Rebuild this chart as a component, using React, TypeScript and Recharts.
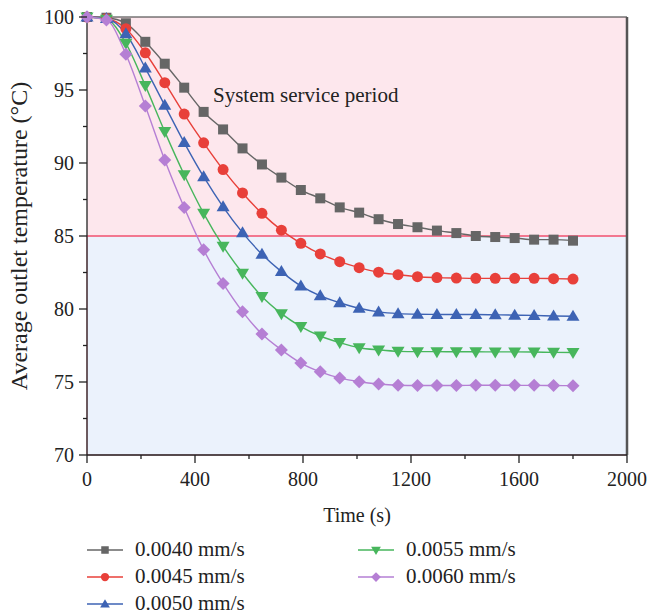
import React from "react";
import {
  LineChart,
  Line,
  XAxis,
  YAxis,
  ReferenceArea,
  ReferenceLine,
  ReferenceDot,
  Legend,
} from "recharts";

const FONT = '"Liberation Serif", "DejaVu Serif", serif';

const times = [
  0, 72, 144, 216, 288, 360, 432, 504, 576, 648, 720, 792, 864, 936, 1008, 1080,
  1152, 1224, 1296, 1368, 1440, 1512, 1584, 1656, 1728, 1800,
];

const v0040 = [
  100, 99.95, 99.57, 98.3, 96.8, 95.16, 93.5, 92.3, 91.0, 89.9, 89.0, 88.15, 87.58,
  86.96, 86.6, 86.15, 85.82, 85.6, 85.37, 85.2, 85.0, 84.93, 84.86, 84.75, 84.75, 84.68,
];
const v0045 = [
  100, 99.9, 99.2, 97.55, 95.5, 93.35, 91.38, 89.55, 87.95, 86.55, 85.4, 84.5, 83.77,
  83.24, 82.83, 82.52, 82.35, 82.21, 82.15, 82.12, 82.1, 82.1, 82.1, 82.1, 82.08, 82.05,
];
const v0050 = [
  100, 99.9, 98.85, 96.5, 93.95, 91.4, 89.06, 87.0, 85.23, 83.75, 82.56, 81.58, 80.9,
  80.43, 80.05, 79.8, 79.68, 79.64, 79.63, 79.62, 79.62, 79.6, 79.58, 79.56, 79.52, 79.5,
];
const v0055 = [
  100, 99.85, 98.2, 95.3, 92.15, 89.2, 86.55, 84.3, 82.45, 80.85, 79.68, 78.8, 78.15,
  77.7, 77.35, 77.2, 77.1, 77.08, 77.08, 77.07, 77.07, 77.06, 77.06, 77.05, 77.03, 77.02,
];
const v0060 = [
  100, 99.8, 97.45, 93.9, 90.2, 86.95, 84.05, 81.75, 79.82, 78.28, 77.2, 76.3, 75.7,
  75.28, 75.02, 74.86, 74.78, 74.76, 74.76, 74.76, 74.78, 74.78, 74.77, 74.77, 74.76, 74.75,
];

const xTicks = [0, 200, 400, 600, 800, 1000, 1200, 1400, 1600, 1800, 2000];
const yTicks = [70, 72.5, 75, 77.5, 80, 82.5, 85, 87.5, 90, 92.5, 95, 97.5, 100];

type Shape = "square" | "circle" | "triangle" | "down" | "diamond";

const series: { key: string; name: string; color: string; shape: Shape; values: number[] }[] = [
  { key: "s1", name: "0.0040 mm/s", color: "#666666", shape: "square", values: v0040 },
  { key: "s2", name: "0.0045 mm/s", color: "#e8403a", shape: "circle", values: v0045 },
  { key: "s3", name: "0.0050 mm/s", color: "#3d63b4", shape: "triangle", values: v0050 },
  { key: "s4", name: "0.0055 mm/s", color: "#47b65c", shape: "down", values: v0055 },
  { key: "s5", name: "0.0060 mm/s", color: "#b57fd4", shape: "diamond", values: v0060 },
];

const data = times.map((t, i) => {
  const row: Record<string, number> = { t };
  series.forEach((s) => {
    row[s.key] = s.values[i];
  });
  return row;
});

const Marker = ({ cx, cy, shape, color }: { cx: number; cy: number; shape: Shape; color: string }) => {
  if (cx == null || cy == null) return null;
  switch (shape) {
    case "square":
      return <rect x={cx - 5} y={cy - 5} width={10} height={10} fill={color} />;
    case "circle":
      return <circle cx={cx} cy={cy} r={5.5} fill={color} />;
    case "triangle":
      return (
        <polygon
          points={`${cx},${cy - 6.5} ${cx + 6.5},${cy + 4.5} ${cx - 6.5},${cy + 4.5}`}
          fill={color}
        />
      );
    case "down":
      return (
        <polygon
          points={`${cx - 6.5},${cy - 4.5} ${cx + 6.5},${cy - 4.5} ${cx},${cy + 6.5}`}
          fill={color}
        />
      );
    default:
      return (
        <polygon
          points={`${cx},${cy - 6.5} ${cx + 6.5},${cy} ${cx},${cy + 6.5} ${cx - 6.5},${cy}`}
          fill={color}
        />
      );
  }
};

const XTick = (props: any) => {
  const { x, y, payload } = props;
  const major = payload.value % 400 === 0;
  return (
    <g>
      <line x1={x} y1={y} x2={x} y2={y + (major ? 8 : 4)} stroke="#222" strokeWidth={1.3} />
      {major && (
        <text x={x} y={y + 31} textAnchor="middle" fontSize={20} fontFamily={FONT} fill="#222">
          {payload.value}
        </text>
      )}
    </g>
  );
};

const YTick = (props: any) => {
  const { x, y, payload } = props;
  const major = payload.value % 5 === 0;
  return (
    <g>
      <line x1={x} y1={y} x2={x - (major ? 8 : 4)} y2={y} stroke="#222" strokeWidth={1.3} />
      {major && (
        <text x={x - 13} y={y + 7} textAnchor="end" fontSize={20} fontFamily={FONT} fill="#222">
          {payload.value}
        </text>
      )}
    </g>
  );
};

const LegendIcon = ({ shape, color }: { shape: Shape; color: string }) => (
  <svg width={36} height={14} style={{ display: "block" }}>
    <line x1={0} y1={7} x2={36} y2={7} stroke={color} strokeWidth={1.5} />
    <g transform="translate(18,7) scale(0.75) translate(-18,-7)">
      <Marker cx={18} cy={7} shape={shape} color={color} />
    </g>
  </svg>
);

const LegendContent = () => (
  <div style={{ position: "relative", width: 650, height: 80 }}>
    {series.map((s, i) => {
      const col = i < 3 ? 0 : 1;
      const row = i < 3 ? i : i - 3;
      return (
        <div
          key={s.key}
          style={{
            position: "absolute",
            left: col === 0 ? 87 : 358,
            top: 2 + row * 27,
            height: 27,
            display: "flex",
            alignItems: "center",
            fontFamily: FONT,
            fontSize: 21,
            color: "#222",
            whiteSpace: "nowrap",
          }}
        >
          <LegendIcon shape={s.shape} color={s.color} />
          <span style={{ marginLeft: 12 }}>{s.name}</span>
        </div>
      );
    })}
  </div>
);

export default function App() {
  return (
    <div style={{ position: "absolute", left: 0, top: 0, width: 650, height: 614, background: "#fff" }}>
      <LineChart width={650} height={614} data={data} margin={{ top: 17, right: 23, left: 0, bottom: 0 }}>
        <ReferenceArea y1={85} y2={100} x1={0} x2={2000} fill="#fde7ed" fillOpacity={1} stroke="none" />
        <ReferenceArea y1={70} y2={85} x1={0} x2={2000} fill="#ebf2fc" fillOpacity={1} stroke="#f28ca0" strokeWidth={1} />
        <ReferenceLine y={85} stroke="#f2607c" strokeWidth={1.3} />
        <ReferenceLine y={100} stroke="#333" strokeWidth={1.2} />
        <ReferenceLine x={2000} stroke="#555" strokeWidth={2.5} />
        <XAxis
          dataKey="t"
          type="number"
          domain={[0, 2000]}
          ticks={xTicks}
          interval={0}
          tickSize={0}
          tickMargin={0}
          tick={<XTick />}
          height={79}
          stroke="#222"
          strokeWidth={1.3}
          label={{ value: "Time (s)", position: "insideBottom", offset: 12, fontSize: 20, fontFamily: FONT, fill: "#222" }}
        />
        <YAxis
          type="number"
          domain={[70, 100]}
          ticks={yTicks}
          interval={0}
          tickSize={0}
          tickMargin={0}
          tick={<YTick />}
          width={87}
          stroke="#222"
          strokeWidth={1.3}
          label={{
            value: "Average outlet temperature (°C)",
            angle: -90,
            position: "insideLeft",
            offset: 18,
            style: { textAnchor: "middle" },
            fontSize: 24,
            fontFamily: FONT,
            fill: "#222",
          }}
        />
        <ReferenceDot
          x={463}
          y={94.66}
          r={1}
          fillOpacity={0}
          stroke="none"
          label={{ value: "System service period", position: "right", offset: 0, fontSize: 21, fontFamily: FONT, fill: "#222" }}
        />
        {series.map((s) => (
          <Line
            key={s.key}
            dataKey={s.key}
            name={s.name}
            type="monotone"
            stroke={s.color}
            strokeWidth={1.4}
            isAnimationActive={false}
            dot={(p: any) => <Marker key={`${s.key}-${p.index}`} cx={p.cx} cy={p.cy} shape={s.shape} color={s.color} />}
            activeDot={false}
          />
        ))}
        <Legend
          verticalAlign="bottom"
          content={<LegendContent />}
          wrapperStyle={{ height: 80, left: 0, width: 650 }}
        />
      </LineChart>
    </div>
  );
}
